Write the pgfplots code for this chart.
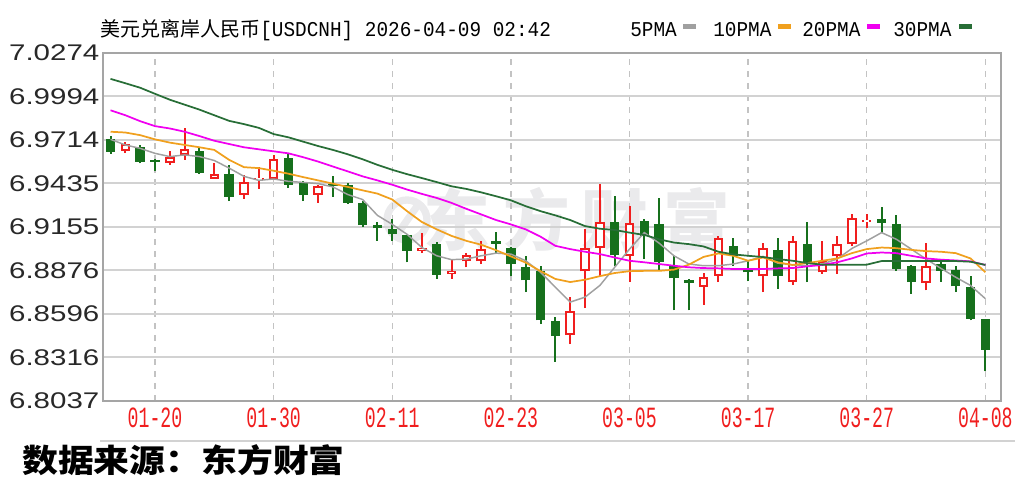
\documentclass[border=0pt]{standalone}
\usepackage{fontspec}
\setmainfont{Liberation Sans}
\newfontfamily\cjk{Noto Sans CJK SC}
\newfontfamily\mono{Liberation Mono}
\usepackage{graphicx}
\usepackage{pgfplots}
\usepackage{pgfplotstable}
\pgfplotsset{compat=1.18}

\definecolor{upred}{RGB}{240,30,30}
\definecolor{dngreen}{RGB}{22,112,28}
\definecolor{ma5c}{RGB}{160,160,160}
\definecolor{ma10c}{RGB}{240,160,30}
\definecolor{ma20c}{RGB}{240,0,240}
\definecolor{ma30c}{RGB}{40,110,55}
\definecolor{gridc}{RGB}{210,210,210}
\definecolor{dashc}{RGB}{195,195,195}
\definecolor{framec}{RGB}{165,165,165}
\definecolor{wmc}{RGB}{234,234,236}
\definecolor{labc}{RGB}{40,40,40}

% rising days (red, hollow)
\pgfplotstableread{
i  o      h      l      c
1  6.9645 6.9703 6.9633 6.9686
4  6.9565 6.9645 6.9554 6.9607
5  6.9618 6.9788 6.9586 6.9654
7  6.9465 6.9565 6.9463 6.9494
9  6.9363 6.9490 6.9335 6.9441
10 6.9456 6.9543 6.9399 6.9469
11 6.9465 6.9620 6.9454 6.9594
14 6.9363 6.9426 6.9309 6.9416
21 6.9001 6.9114 6.8986 6.9022
23 6.8854 6.8948 6.8820 6.8871
24 6.8933 6.8984 6.8895 6.8975
25 6.8933 6.9065 6.8916 6.9012
31 6.8459 6.8703 6.8401 6.8612
32 6.8869 6.9139 6.8633 6.9022
33 6.9022 6.9433 6.8831 6.9188
35 6.8969 6.9292 6.8803 6.9182
40 6.8771 6.8856 6.8654 6.8831
41 6.8841 6.9097 6.8799 6.9086
44 6.8837 6.9050 6.8735 6.9018
46 6.8803 6.9097 6.8784 6.9061
48 6.8863 6.9065 6.8852 6.8937
49 6.8965 6.9097 6.8852 6.9044
50 6.9044 6.9241 6.9033 6.9209
51 6.9186 6.9241 6.9150 6.9199
55 6.8793 6.9050 6.8746 6.8905
}\upT

% falling days (green, filled)
\pgfplotstableread{
i  o      h      l      c
0  6.9720 6.9739 6.9624 6.9639
2  6.9667 6.9682 6.9563 6.9575
3  6.9582 6.9590 6.9516 6.9571
6  6.9645 6.9671 6.9497 6.9501
8  6.9494 6.9554 6.9320 6.9348
12 6.9601 6.9628 6.9405 6.9426
13 6.9437 6.9448 6.9320 6.9363
15 6.9433 6.9484 6.9348 6.9416
16 6.9426 6.9437 6.9305 6.9309
17 6.9309 6.9320 6.9156 6.9167
18 6.9167 6.9186 6.9065 6.9146
19 6.9139 6.9203 6.9065 6.9107
20 6.9101 6.9103 6.8927 6.9001
22 6.9048 6.9058 6.8820 6.8846
26 6.9065 6.9122 6.8980 6.9048
27 6.9018 6.9027 6.8837 6.8916
28 6.8899 6.8969 6.8735 6.8810
29 6.8869 6.8905 6.8529 6.8554
30 6.8550 6.8576 6.8288 6.8454
34 6.9188 6.9356 6.8905 6.8973
36 6.9192 6.9203 6.8948 6.9097
37 6.9175 6.9341 6.8873 6.8927
38 6.8901 6.8969 6.8618 6.8824
39 6.8810 6.8820 6.8618 6.8795
42 6.9033 6.9086 6.8905 6.8969
43 6.8884 6.8937 6.8805 6.8863
45 6.9007 6.9086 6.8756 6.8841
47 6.9048 6.9188 6.8799 6.8916
52 6.9207 6.9282 6.9114 6.9182
53 6.9171 6.9231 6.8873 6.8884
54 6.8905 6.8910 6.8725 6.8799
56 6.8916 6.8937 6.8803 6.8873
57 6.8880 6.8905 6.8735 6.8773
58 6.8767 6.8841 6.8554 6.8565
59 6.8561 6.8565 6.8225 6.8363
}\dnT

% moving averages
\pgfplotstableread{
i  ma5    ma10   ma20   ma30
0  6.9718 6.9767 6.9905 7.0107
1  6.9682 6.9762 6.9873 7.0079
2  6.9660 6.9745 6.9835 7.0050
3  6.9628 6.9718 6.9803 7.0011
4  6.9607 6.9697 6.9788 6.9973
5  6.9618 6.9682 6.9767 6.9941
6  6.9607 6.9667 6.9739 6.9909
7  6.9582 6.9650 6.9709 6.9873
8  6.9533 6.9586 6.9688 6.9837
9  6.9480 6.9539 6.9667 6.9816
10 6.9454 6.9533 6.9654 6.9792
11 6.9463 6.9516 6.9641 6.9752
12 6.9448 6.9497 6.9628 6.9731
13 6.9441 6.9475 6.9603 6.9703
14 6.9433 6.9454 6.9575 6.9675
15 6.9412 6.9433 6.9543 6.9650
16 6.9363 6.9412 6.9512 6.9622
17 6.9331 6.9390 6.9480 6.9590
18 6.9229 6.9369 6.9454 6.9554
19 6.9171 6.9331 6.9426 6.9522
20 6.9107 6.9256 6.9395 6.9494
21 6.9022 6.9186 6.9367 6.9469
22 6.8969 6.9139 6.9341 6.9443
23 6.8944 6.9097 6.9309 6.9416
24 6.8948 6.9065 6.9271 6.9399
25 6.8969 6.9040 6.9235 6.9377
26 6.8986 6.9005 6.9199 6.9352
27 6.8980 6.8965 6.9171 6.9326
28 6.8937 6.8925 6.9139 6.9288
29 6.8863 6.8870 6.9092 6.9256
30 6.8767 6.8820 6.9033 6.9229
31 6.8671 6.8800 6.9012 6.9199
32 6.8703 6.8815 6.8995 6.9160
33 6.8778 6.8838 6.8980 6.9143
34 6.8895 6.8858 6.8958 6.9135
35 6.9012 6.8870 6.8937 6.9118
36 6.9118 6.8872 6.8927 6.9103
37 6.9050 6.8872 6.8916 6.9075
38 6.8969 6.8880 6.8905 6.9054
39 6.8916 6.8912 6.8895 6.9044
40 6.8905 6.8962 6.8890 6.9029
41 6.8905 6.8984 6.8888 6.8995
42 6.8916 6.8969 6.8884 6.8978
43 6.8937 6.8937 6.8884 6.8969
44 6.8965 6.8958 6.8884 6.8961
45 6.8922 6.8927 6.8888 6.8948
46 6.8910 6.8910 6.8890 6.8937
47 6.8905 6.8922 6.8901 6.8922
48 6.8916 6.8937 6.8910 6.8912
49 6.8948 6.8952 6.8927 6.8912
50 6.9016 6.8986 6.8952 6.8912
51 6.9065 6.9012 6.8984 6.8912
52 6.9118 6.9022 6.8990 6.8935
53 6.9075 6.9018 6.8986 6.8935
54 6.9012 6.9007 6.8969 6.8935
55 6.8948 6.8999 6.8952 6.8935
56 6.8888 6.8995 6.8944 6.8935
57 6.8831 6.8986 6.8939 6.8935
58 6.8778 6.8952 6.8933 6.8931
59 6.8693 6.8863 6.8910 6.8910
}\maT

\newcommand\yl[1]{\scalebox{1.3}[1]{#1}}
\newcommand\xl[1]{\scalebox{0.62}[1]{#1}}

\begin{document}
\begin{tikzpicture}[x=0.75pt,y=0.75pt]
\useasboundingbox (0,0) rectangle (1030,498);

% watermark
\begin{scope}[wmc]
  \draw[line width=5.5] (407,278) circle (20);
  \draw[line width=5.5] (396,262) -- (420,296);
  \foreach \ch/\xx in {东/457,方/537,财/615,富/697}
    \node[font=\cjk\bfseries\fontsize{50pt}{50pt}\selectfont, text=wmc] at (\xx,278) {\ch};
\end{scope}

% title and legend
\node[anchor=base west, inner sep=0pt, text=black] at (100,461.5)
  {\cjk\fontsize{15pt}{15pt}\selectfont 美元兑离岸人民币\scalebox{0.92}[1]{\mono\fontsize{15.8pt}{16pt}\selectfont[USDCNH] 2026-04-09 02:42}};
\foreach \lab/\lx/\sx/\col in {5PMA/630/683/ma5c, 10PMA/713/778/ma10c, 20PMA/802/867/ma20c, 30PMA/893/959/ma30c}{
  \node[anchor=base west, inner sep=0pt, text=black] at (\lx,461.5)
    {\scalebox{0.92}[1]{\mono\fontsize{15.8pt}{16pt}\selectfont\lab}};
  \fill[\col] (\sx,469) rectangle ++(13,5);
}

\begin{axis}[
  at={(77.0pt,73.0pt)}, anchor=south west,
  width=673.7pt, height=260.8pt, scale only axis,
  xmin=-0.53, xmax=60.05,
  ymin=6.8037, ymax=7.0274,
  axis line style={draw=framec, line width=1.5pt},
  major tick length=0pt,
  xtick={3,11,19,27,35,43,51,59},
  xticklabels={\xl{01-20},\xl{01-30},\xl{02-11},\xl{02-23},\xl{03-05},\xl{03-17},\xl{03-27},\xl{04-08}},
  xticklabel style={font=\mono\fontsize{22pt}{22pt}\selectfont, text=upred, yshift=-2pt},
  ytick={6.8037,6.8316,6.8596,6.8876,6.9155,6.9435,6.9714,6.9994,7.0274},
  yticklabels={\yl{6.8037},\yl{6.8316},\yl{6.8596},\yl{6.8876},\yl{6.9155},\yl{6.9435},\yl{6.9714},\yl{6.9994},\yl{7.0274}},
  yticklabel style={font=\fontsize{17pt}{17pt}\selectfont, text=labc, xshift=1pt},
  xmajorgrids, ymajorgrids,
  major x grid style={draw=dashc, line width=1.1pt, dash pattern=on 4.5pt off 4.5pt},
  major y grid style={draw=gridc, line width=1.5pt},
  clip=true,
]
% wicks
\addplot[draw=none, mark=none, forget plot,
  error bars/.cd, y dir=plus, y explicit, error mark=none,
  error bar style={draw=upred, line width=1.5pt}]
  table[x=i, y=l, y error plus expr=\thisrow{h}-\thisrow{l}] {\upT};
\addplot[draw=none, mark=none, forget plot,
  error bars/.cd, y dir=plus, y explicit, error mark=none,
  error bar style={draw=dngreen, line width=1.5pt}]
  table[x=i, y=l, y error plus expr=\thisrow{h}-\thisrow{l}] {\dnT};
% bodies
\addplot[draw=none, mark=none, forget plot,
  error bars/.cd, y dir=plus, y explicit, error mark=none,
  error bar style={draw=upred, line width=7.1pt}]
  table[x=i, y=o, y error plus expr=\thisrow{c}-\thisrow{o}] {\upT};
\addplot[draw=none, mark=none, forget plot,
  error bars/.cd, y dir=plus, y explicit, error mark=none,
  error bar style={draw=white, line width=4.1pt, shorten <=1.5pt, shorten >=1.5pt}]
  table[x=i, y=o, y error plus expr=\thisrow{c}-\thisrow{o}] {\upT};
\addplot[draw=none, mark=none, forget plot,
  error bars/.cd, y dir=plus, y explicit, error mark=none,
  error bar style={draw=dngreen, line width=7.1pt}]
  table[x=i, y=c, y error plus expr=\thisrow{o}-\thisrow{c}] {\dnT};
% moving averages
\addplot[ma5c, line width=1.1pt, mark=none] table[x=i, y=ma5] {\maT};
\addplot[ma10c, line width=1.3pt, mark=none] table[x=i, y=ma10] {\maT};
\addplot[ma20c, line width=1.3pt, mark=none] table[x=i, y=ma20] {\maT};
\addplot[ma30c, line width=1.3pt, mark=none] table[x=i, y=ma30] {\maT};
\end{axis}

% separator and source
\draw[gridc, line width=1pt] (100,57) -- (1015,57);
\node[anchor=base west, inner sep=0pt, text=black] at (22,25)
  {\scalebox{1.12}[1]{\cjk\bfseries\fontsize{24pt}{24pt}\selectfont 数据来源：东方财富}};
\end{tikzpicture}
\end{document}
